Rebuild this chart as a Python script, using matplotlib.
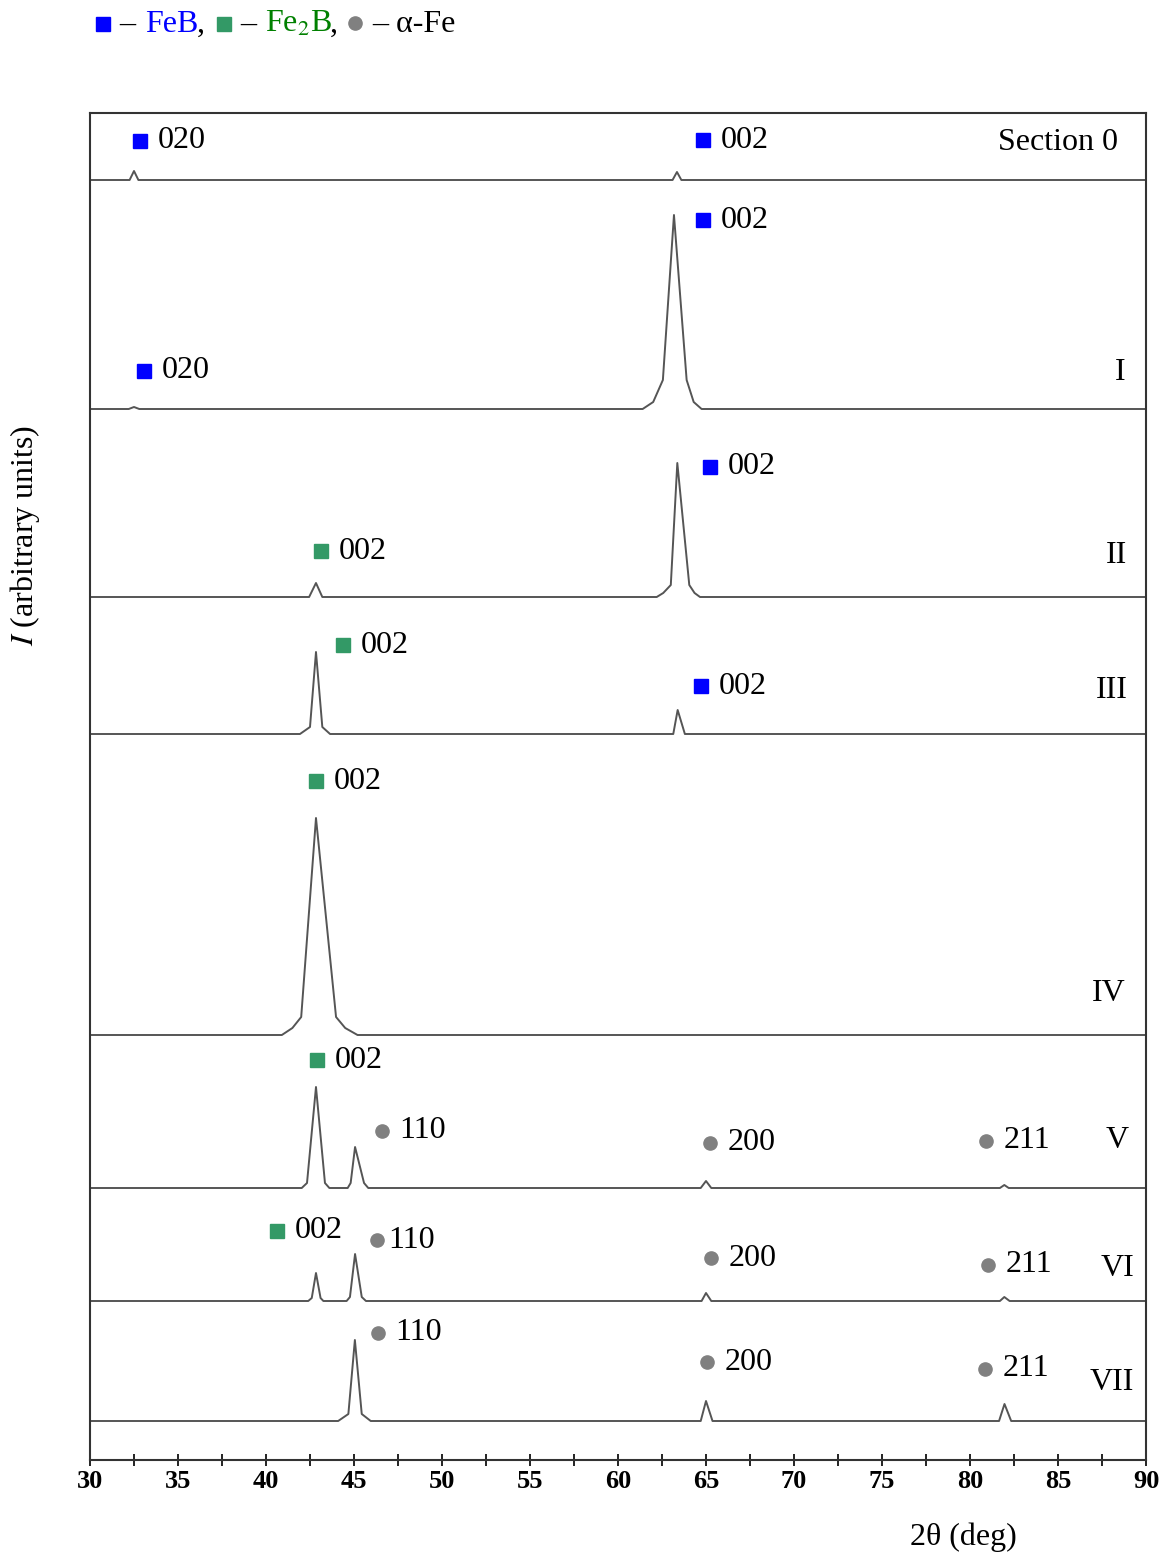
import matplotlib
matplotlib.use("Agg")
import matplotlib.pyplot as plt
from matplotlib.ticker import MultipleLocator

plt.rcParams['font.family'] = ['Liberation Serif', 'DejaVu Sans']
plt.rcParams['mathtext.fontset'] = 'stix'

# diffraction patterns: 2theta (deg) and intensity (arb. units)
names = ['Section 0', 'I', 'II', 'III', 'IV', 'V', 'VI', 'VII']

tt_0 = [30, 32.25, 32.5, 32.75, 63.1, 63.35, 63.6, 90]
int_0 = [0, 0, 9, 0, 0, 8, 0, 0]

tt_1 = [30, 32.2, 32.5, 32.8, 61.4, 62.0, 62.55, 63.18, 63.9, 64.3, 64.75, 90]
int_1 = [0, 0, 2, 0, 0, 7, 29, 194, 29, 7, 0, 0]

tt_2 = [30, 42.45, 42.84, 43.2, 62.2, 62.57, 63.0, 63.37, 64.05, 64.35, 64.66, 90]
int_2 = [0, 0, 14, 0, 0, 4, 12, 134, 12, 4, 0, 0]

tt_3 = [30, 41.93, 42.5, 42.84, 43.2, 43.64, 63.14, 63.39, 63.8, 90]
int_3 = [0, 0, 7, 82, 7, 0, 0, 24, 0, 0]

tt_4 = [30, 40.9, 41.5, 42.0, 42.84, 43.98, 44.5, 45.2, 90]
int_4 = [0, 0, 7, 18, 217, 18, 7, 0, 0]

tt_5 = [30, 42.03, 42.33, 42.84, 43.35, 43.6, 44.64, 44.81, 45.06, 45.57, 45.81,
        64.7, 65.0, 65.3, 81.7, 81.95, 82.2, 90]
int_5 = [0, 0, 5, 101, 5, 0, 0, 5, 41, 5, 0, 0, 7, 0, 0, 3, 0, 0]

tt_6 = [30, 42.4, 42.6, 42.84, 43.1, 43.26, 44.58, 44.77, 45.06, 45.44, 45.68,
        64.75, 65.0, 65.3, 81.7, 81.95, 82.25, 90]
int_6 = [0, 0, 3, 28, 3, 0, 0, 4, 47, 4, 0, 0, 8, 0, 0, 4, 0, 0]

tt_7 = [30, 44.1, 44.68, 45.05, 45.44, 45.95, 64.7, 65.0, 65.37, 81.65, 81.96, 82.34, 90]
int_7 = [0, 0, 7, 81, 7, 0, 0, 20, 0, 0, 17, 0, 0]

patterns = [(tt_0, int_0), (tt_1, int_1), (tt_2, int_2), (tt_3, int_3),
            (tt_4, int_4), (tt_5, int_5), (tt_6, int_6), (tt_7, int_7)]

# vertical offset of each pattern's baseline
offsets = [1280, 1051, 863, 726, 425, 272, 159, 39]

# peak labels: pattern index, phase, 2theta of marker, height of marker, hkl
peak_pattern = [0, 0, 1, 1, 2, 2, 3, 3, 4, 5, 5, 5, 5, 6, 6, 6, 6, 7, 7, 7]
peak_phase = ['FeB', 'FeB', 'FeB', 'FeB', 'Fe2B', 'FeB', 'Fe2B', 'FeB', 'Fe2B',
              'Fe2B', 'aFe', 'aFe', 'aFe', 'Fe2B', 'aFe', 'aFe', 'aFe', 'aFe', 'aFe', 'aFe']
peak_x = [32.84, 64.83, 33.07, 64.83, 43.13, 65.23, 44.38, 64.72, 42.84,
          42.9, 46.59, 65.23, 80.91, 40.63, 46.31, 65.28, 81.02, 46.36, 65.06, 80.85]
peak_y = [39, 40, 38, 189, 46, 130, 89, 48, 254,
          128, 57, 45, 47, 70, 61, 43, 36, 88, 59, 52]
peak_hkl = ['020', '002', '020', '002', '002', '002', '002', '002', '002',
            '002', '110', '200', '211', '002', '110', '200', '211', '110', '200', '211']

phase_style = {'FeB': dict(marker='s', color='#0000ff', ms=10),
               'Fe2B': dict(marker='s', color='#339966', ms=10),
               'aFe': dict(marker='o', color='#808080', ms=9.5)}

fig = plt.figure(figsize=(11.69, 15.55), dpi=100)
W, H = 1169, 1555
ax = fig.add_axes([90 / W, 1 - 1460 / H, 1056 / W, 1347 / H])

line_col = '#555555'
for (tt, inten), off in zip(patterns, offsets):
    ax.plot(tt, [v + off for v in inten], color=line_col, lw=1.4)

fs = 23
for i, ph, x, y, hkl in zip(peak_pattern, peak_phase, peak_x, peak_y, peak_hkl):
    yy = offsets[i] + y
    ax.plot(x, yy, ls='none', **phase_style[ph])
    dx = 8 if (i == 6 and hkl == '110') else 12.5
    ax.annotate(hkl, (x, yy), xytext=(dx, 0), textcoords='offset points',
                ha='left', va='center', fontsize=fs)

# pattern names on the right
name_x = [85.0, 88.52, 88.3, 88.07, 87.9, 88.35, 88.4, 88.07]
name_y = [38, 37, 42, 44, 42, 48, 33, 38]
for nm, x, y, off in zip(names, name_x, name_y, offsets):
    ax.text(x, off + y, nm, ha='center', va='center', fontsize=fs)

ax.set_xlim(30, 90)
ax.set_ylim(0, 1347)
ax.xaxis.set_major_locator(MultipleLocator(5))
ax.xaxis.set_minor_locator(MultipleLocator(2.5))
ax.tick_params(axis='x', which='both', direction='inout', length=9, width=1.4,
               pad=3, labelsize=19, color='#222222')
for lab in ax.get_xticklabels():
    lab.set_fontweight('bold')
ax.set_yticks([])
for s in ax.spines.values():
    s.set_color('#333333')
    s.set_linewidth(1.5)

# overlay in pixel coordinates for header and axis titles
hdr = fig.add_axes([0, 0, 1, 1])
hdr.set_xlim(0, W)
hdr.set_ylim(H, 0)
hdr.axis('off')

hdr.plot(103, 24, **phase_style['FeB'])
hdr.text(119, 24, '–', fontsize=fs, va='center')
hdr.text(145, 24, 'FeB', fontsize=fs, va='center', color='#0000ff')
hdr.text(197, 24, ',', fontsize=fs, va='center')
hdr.plot(224, 24, **phase_style['Fe2B'])
hdr.text(240, 24, '–', fontsize=fs, va='center')
hdr.text(265, 24, r'Fe$_{\mathrm{2}}$B', fontsize=fs, va='center', color='#008000')
hdr.text(330, 24, ',', fontsize=fs, va='center')
hdr.plot(355, 23, **phase_style['aFe'])
hdr.text(372, 24, '– α-Fe', fontsize=fs, va='center')

hdr.text(963, 1537, '2θ (deg)', fontsize=fs, ha='center', va='center')
hdr.text(25, 535, r'$I$ (arbitrary units)', fontsize=fs, ha='center', va='center',
         rotation=90)

fig.savefig('out.png', dpi=100)
